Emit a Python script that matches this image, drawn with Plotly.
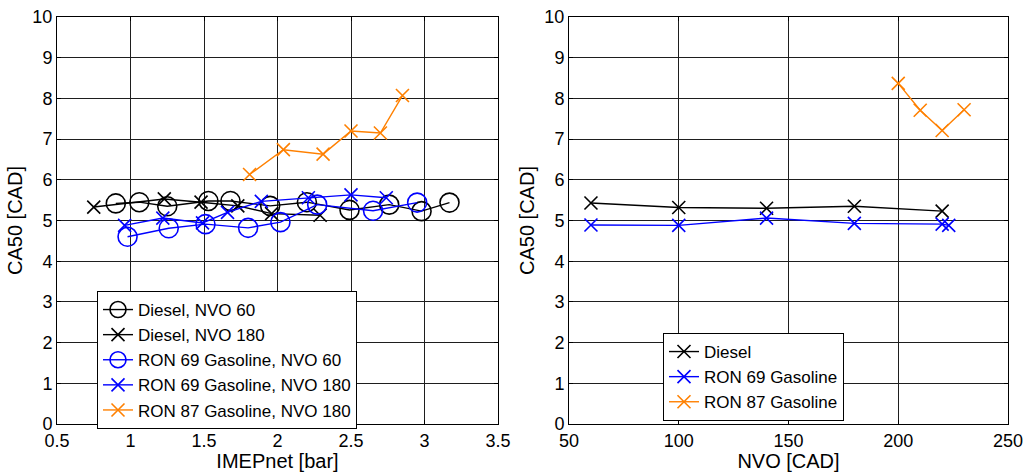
import plotly.graph_objects as go

# CA50 vs IMEPnet
diesel_nvo60_imep = [0.90, 1.06, 1.25, 1.53, 1.68, 1.95, 2.20, 2.49, 2.76, 2.98, 3.17]
diesel_nvo60_ca50 = [5.42, 5.45, 5.35, 5.48, 5.48, 5.36, 5.45, 5.26, 5.39, 5.23, 5.44]

diesel_nvo180_imep = [0.75, 1.23, 1.48, 1.73, 1.96, 2.29]
diesel_nvo180_ca50 = [5.33, 5.53, 5.45, 5.36, 5.17, 5.13]

ron69_nvo60_imep = [0.98, 1.26, 1.51, 1.80, 2.02, 2.27, 2.65, 2.95]
ron69_nvo60_ca50 = [4.60, 4.81, 4.91, 4.82, 4.96, 5.39, 5.24, 5.44]

ron69_nvo180_imep = [0.96, 1.22, 1.49, 1.66, 1.89, 2.21, 2.50, 2.74]
ron69_nvo180_ca50 = [4.88, 5.06, 4.94, 5.20, 5.47, 5.56, 5.63, 5.56]

ron87_nvo180_imep = [1.81, 2.04, 2.31, 2.50, 2.70, 2.85]
ron87_nvo180_ca50 = [6.13, 6.74, 6.63, 7.20, 7.15, 8.07]

# CA50 vs NVO
diesel_nvo = [60, 100, 140, 180, 220]
diesel_ca50 = [5.43, 5.32, 5.30, 5.35, 5.23]

ron69_nvo = [60, 100, 140, 180, 220, 223]
ron69_ca50 = [4.89, 4.88, 5.06, 4.93, 4.91, 4.88]

ron87_nvo = [200, 210, 220, 230]
ron87_ca50 = [8.37, 7.71, 7.21, 7.72]

BLACK = "#000000"
BLUE = "#0000FF"
ORANGE = "#FF8000"
FONT = "Liberation Sans, Arial, sans-serif"


def series(x, y, name, color, symbol, xa, ya, legend):
    if symbol == "circle":
        marker = dict(symbol="circle-open", size=19, color=color,
                      line=dict(width=1.6, color=color))
    else:
        marker = dict(symbol="x-thin-open", size=13, color=color,
                      line=dict(width=1.6, color=color))
    return go.Scatter(x=x, y=y, name=name, mode="lines+markers",
                      line=dict(color=color, width=1.4), marker=marker,
                      xaxis=xa, yaxis=ya, legend=legend)


fig = go.Figure()
fig.add_trace(series(diesel_nvo60_imep, diesel_nvo60_ca50, "Diesel, NVO 60", BLACK, "circle", "x", "y", "legend"))
fig.add_trace(series(diesel_nvo180_imep, diesel_nvo180_ca50, "Diesel, NVO 180", BLACK, "x", "x", "y", "legend"))
fig.add_trace(series(ron69_nvo60_imep, ron69_nvo60_ca50, "RON 69 Gasoline, NVO 60", BLUE, "circle", "x", "y", "legend"))
fig.add_trace(series(ron69_nvo180_imep, ron69_nvo180_ca50, "RON 69 Gasoline, NVO 180", BLUE, "x", "x", "y", "legend"))
fig.add_trace(series(ron87_nvo180_imep, ron87_nvo180_ca50, "RON 87 Gasoline, NVO 180", ORANGE, "x", "x", "y", "legend"))

fig.add_trace(series(diesel_nvo, diesel_ca50, "Diesel", BLACK, "x", "x2", "y2", "legend2"))
fig.add_trace(series(ron69_nvo, ron69_ca50, "RON 69 Gasoline", BLUE, "x", "x2", "y2", "legend2"))
fig.add_trace(series(ron87_nvo, ron87_ca50, "RON 87 Gasoline", ORANGE, "x", "x2", "y2", "legend2"))

axis_style = dict(
    showline=True, linecolor="black", linewidth=1, mirror="ticks",
    ticks="inside", ticklen=4, tickcolor="black",
    showgrid=True, gridcolor="rgb(30,30,30)", gridwidth=1,
    zeroline=False, automargin=False,
    tickfont=dict(family=FONT, size=18, color="black"),
    title_font=dict(family=FONT, size=20, color="black"),
)

W, H = 1033, 472
ml, mr, mt, mb = 57, 25, 17, 48
pw = W - ml - mr
ph = H - mt - mb

legend_style = dict(xanchor="left", yanchor="top", bgcolor="white",
                    bordercolor="black", borderwidth=1,
                    font=dict(family=FONT, size=17, color="black"),
                    tracegroupgap=0, itemwidth=30)

fig.update_layout(
    width=W, height=H,
    margin=dict(l=ml, r=mr, t=mt, b=mb),
    paper_bgcolor="white", plot_bgcolor="white",
    font=dict(family=FONT, size=18, color="black"),
    xaxis=dict(domain=[0, (498 - 57) / pw], range=[0.5, 3.5], dtick=0.5, tick0=0.5,
               title=dict(text="IMEPnet [bar]", standoff=4), anchor="y", **axis_style),
    yaxis=dict(range=[0, 10], dtick=1, title=dict(text="CA50 [CAD]", standoff=4),
               anchor="x", **axis_style),
    xaxis2=dict(domain=[(569 - 57) / pw, 1], range=[50, 250], dtick=50, tick0=50,
                title=dict(text="NVO [CAD]", standoff=4), anchor="y2", **axis_style),
    yaxis2=dict(range=[0, 10], dtick=1, title=dict(text="CA50 [CAD]", standoff=4),
                anchor="x2", **axis_style),
    legend=dict(x=(97 - 57) / pw, y=(424 - 291) / ph, **legend_style),
    legend2=dict(x=(663 - 57) / pw, y=(424 - 333) / ph, **legend_style),
    showlegend=True,
)

fig.write_html("out.html")
